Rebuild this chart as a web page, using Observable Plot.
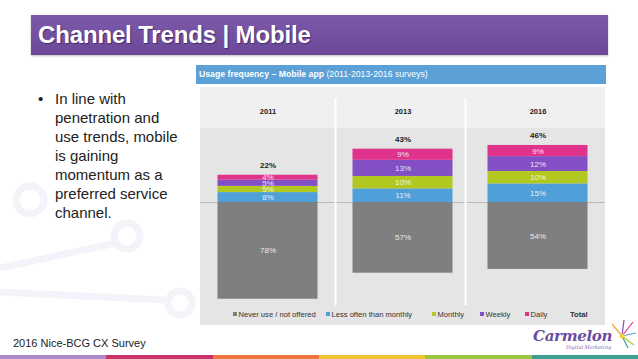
<!DOCTYPE html>
<html>
<head>
<meta charset="utf-8">
<script src="https://cdn.jsdelivr.net/npm/d3@7"></script>
<script src="https://cdn.jsdelivr.net/npm/@observablehq/plot@0.6"></script>
<style>
  html, body { margin: 0; padding: 0; background: #fff; }
  body { width: 638px; height: 359px; position: relative; overflow: hidden; font-family: "Liberation Sans", Arial, sans-serif; }
  #deco { position: absolute; left: 0; top: 0; }
  #title { position: absolute; left: 31px; top: 15px; width: 577px; height: 40px;
    background: linear-gradient(#7d59aa, #6a4896); box-shadow: 0 1px 2px rgba(0,0,0,0.25); }
  #title span { position: absolute; left: 7px; top: 6px; font-weight: bold; font-size: 24px; color: #fff;
    letter-spacing: -0.15px; text-shadow: 1px 1px 1px rgba(40,20,70,0.6); white-space: nowrap; }
  #bullet { position: absolute; left: 38px; top: 89px; font-size: 15px; line-height: 19px; color: #222; }
  #bullet .dot { position: absolute; left: 0; top: 0; }
  #bullet .txt { position: absolute; left: 17px; top: 0; white-space: nowrap; }
  #hdr { position: absolute; left: 196px; top: 65px; width: 410px; height: 19px; background: #5ba0d6; }
  #hdr span { position: absolute; left: 3px; top: 4px; font-size: 8.7px; color: #fff; white-space: nowrap; }
  #panel { position: absolute; left: 200px; top: 87px; width: 405px; }
  #legend { position: relative; width: 405px; height: 20px; background: #e5e5e5; font-size: 7.6px; color: #333; }
  #legend .it { position: absolute; top: 5px; white-space: nowrap; }
  #legend .sw { display: inline-block; width: 4px; height: 4px; margin-right: 1.5px; vertical-align: 1px; }
  #foot { position: absolute; left: 13px; top: 337px; font-size: 11px; color: #222; white-space: nowrap; }
  #stripe { position: absolute; left: 0; top: 355px; width: 638px; height: 4px; display: flex; }
  #stripe div { flex: 1; }
  #logo { position: absolute; left: 533px; top: 327px; font-family: "DejaVu Serif", serif; font-weight: bold; font-style: italic;
    font-size: 15px; color: #6b4d9e; white-space: nowrap; letter-spacing: -0.3px; }
  #logo2 { position: absolute; left: 566px; top: 344px; font-family: "DejaVu Serif", serif; font-style: italic; font-size: 5px; color: #7a64a8; white-space: nowrap; }
</style>
</head>
<body>
<svg id="deco" width="638" height="359">
  <g fill="none" stroke="#f4f3f9" stroke-width="7">
    <circle cx="127" cy="236" r="13"/>
    <path d="M0 268 L116 243"/>
    <path d="M0 292 L165 300"/>
    <circle cx="180" cy="303" r="12"/>
    <circle cx="30" cy="200" r="14"/>
  </g>
  <g stroke-width="1.2">
    <line x1="622" y1="336" x2="633" y2="322" stroke="#e0338c"/>
    <line x1="622" y1="336" x2="636" y2="333" stroke="#5ba0d6"/>
    <line x1="622" y1="336" x2="634" y2="345" stroke="#b2c821"/>
    <line x1="622" y1="336" x2="612" y2="324" stroke="#f0a030"/>
    <line x1="622" y1="336" x2="624" y2="320" stroke="#8250c4"/>
    <line x1="622" y1="336" x2="628" y2="348" stroke="#40a090"/>
  </g>
  <circle cx="622" cy="336" r="2.5" fill="#f5d040"/>
</svg>

<div id="title"><span>Channel Trends | Mobile</span></div>

<div id="bullet"><span class="dot">•</span><span class="txt">In line with<br>penetration and<br>use trends, mobile<br>is gaining<br>momentum as a<br>preferred service<br>channel.</span></div>

<div id="hdr"><span><b>Usage frequency – Mobile app</b> (2011-2013-2016 surveys)</span></div>

<div id="panel">
  <div id="chart"></div>
  <div id="legend"></div>
</div>

<div id="foot">2016 Nice-BCG CX Survey</div>
<div id="logo">Carmelon</div>
<div id="logo2">Digital Marketing</div>
<div id="stripe">
  <div style="background:#a98bc9"></div><div style="background:#c8346a"></div><div style="background:#ee7540"></div>
  <div style="background:#f2c631"></div><div style="background:#9cc640"></div><div style="background:#3c9f8f"></div>
</div>

<script>
// ---- data ----
const years = ["2011", "2013", "2016"];
const series = ["Never use / not offered", "Less often than monthly", "Monthly", "Weekly", "Daily"];
const neverUse = [78, 57, 54];
const lessOften = [8, 11, 15];
const monthly = [5, 10, 10];
const weekly = [5, 13, 12];
const daily = [4, 9, 9];
const totals = [22, 43, 46];
const colors = ["#7f7f7f", "#4f9fd8", "#b2c821", "#8250c4", "#e0338c"];
const totalLabel = "Total";

// ---- build table ----
const seriesValues = [neverUse, lessOften, monthly, weekly, daily];
const rows = [];
years.forEach((year, i) => {
  series.forEach((s, j) => {
    const v = seriesValues[j][i];
    rows.push({year, series: s, value: v, signed: j === 0 ? -v : v});
  });
});
const totalRows = years.map((year, i) => ({year, total: totals[i]}));

const chart = Plot.plot({
  width: 405,
  height: 218,
  marginTop: 11,
  marginBottom: 0,
  marginLeft: 0,
  marginRight: 0,
  style: {
    background: "linear-gradient(#f0f0f0 0px, #f0f0f0 41px, #e5e5e5 41px)",
    fontFamily: "Liberation Sans, Arial, sans-serif",
    overflow: "visible"
  },
  x: {domain: years, padding: 0, axis: null, label: null},
  y: {domain: [-83.06, 83.87], axis: null, label: null},
  color: {domain: series, range: colors},
  marks: [
    Plot.ruleY([0], {stroke: "#b9b9b9", strokeWidth: 1}),
    Plot.ruleX(["2013"], {dx: -67.5, stroke: "#ffffff", strokeWidth: 2}),
    Plot.ruleX(["2016"], {dx: -72.5, stroke: "#ffffff", strokeWidth: 2}),
    Plot.barY(rows, {x: "year", y: "signed", z: "series", fill: "series", order: series, insetLeft: 17.5, insetRight: 17.5}),
    Plot.text(rows, Plot.stackY({x: "year", y: "signed", z: "series", order: series,
      text: d => d.value + "%", fill: "#ffffff", fillOpacity: 0.88, fontSize: 8})),
    Plot.text(totalRows, {x: "year", y: "total", text: d => d.total + "%", dy: -10,
      fontWeight: "bold", fontSize: 8, fill: "#222"}),
    Plot.axisX({anchor: "top", label: null, tickSize: 0, tickPadding: 0, dy: 15, fontWeight: "bold", fontSize: 7.5, color: "#222"})
  ]
});
document.getElementById("chart").appendChild(chart);

// ---- legend ----
const legend = document.getElementById("legend");
const legendX = [33, 126, 232, 280, 325];
series.forEach((s, j) => {
  const it = document.createElement("span");
  it.className = "it";
  it.style.left = legendX[j] + "px";
  it.innerHTML = `<span class="sw" style="background:${colors[j]}"></span>${s}`;
  legend.appendChild(it);
});
const tot = document.createElement("span");
tot.className = "it";
tot.style.left = "370px";
tot.style.fontWeight = "bold";
tot.textContent = totalLabel;
legend.appendChild(tot);
</script>
</body>
</html>
